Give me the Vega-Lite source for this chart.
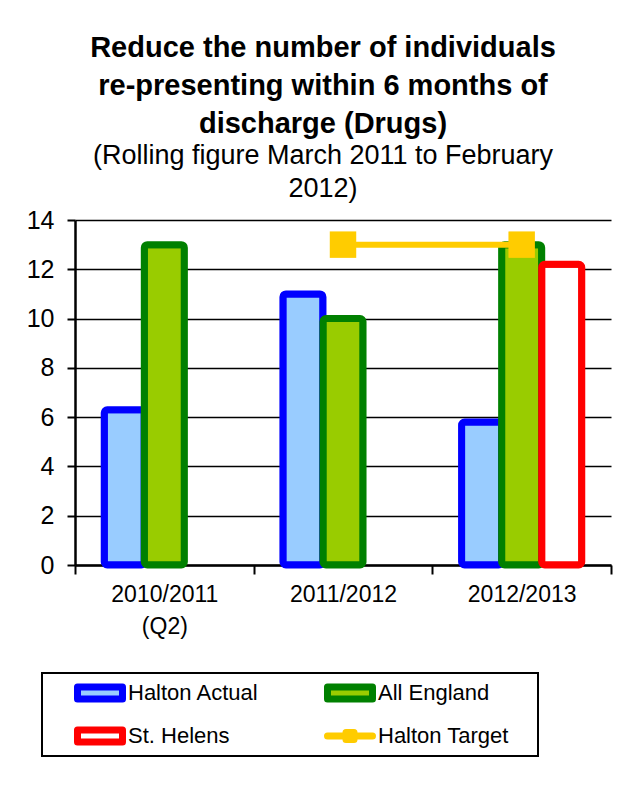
{
  "$schema": "https://vega.github.io/schema/vega-lite/v6.json",
  "width": 536,
  "height": 345,
  "autosize": {"type": "none"},
  "padding": {"left": 75, "top": 220, "right": 23, "bottom": 229},
  "background": "white",
  "config": {
    "font": "Liberation Sans",
    "view": {"stroke": null}
  },
  "title": {
    "text": ["Reduce the number of individuals", "re-presenting within 6 months of", "discharge (Drugs)"],
    "subtitle": ["(Rolling figure March 2011 to February", "2012)"],
    "font": "Liberation Sans",
    "fontSize": 29,
    "fontWeight": "bold",
    "lineHeight": 38,
    "color": "black",
    "subtitleFont": "Liberation Sans",
    "subtitleFontSize": 27,
    "subtitleLineHeight": 33,
    "subtitleColor": "black",
    "subtitlePadding": 4,
    "anchor": "middle",
    "frame": "group",
    "dx": -20,
    "offset": 6
  },
  "data": {
    "values": [
      {"period": "2010/2011 (Q2)", "series": "Halton Actual", "value": 6.3},
      {"period": "2011/2012", "series": "Halton Actual", "value": 11},
      {"period": "2012/2013", "series": "Halton Actual", "value": 5.8},
      {"period": "2010/2011 (Q2)", "series": "All England", "value": 13},
      {"period": "2011/2012", "series": "All England", "value": 10},
      {"period": "2012/2013", "series": "All England", "value": 13},
      {"period": "2012/2013", "series": "St. Helens", "value": 12.2},
      {"period": "2011/2012", "series": "Halton Target", "value": 13},
      {"period": "2012/2013", "series": "Halton Target", "value": 13}
    ]
  },
  "encoding": {
    "x": {
      "field": "period",
      "type": "nominal",
      "sort": ["2010/2011 (Q2)", "2011/2012", "2012/2013"],
      "scale": {"paddingInner": 0, "paddingOuter": 0},
      "axis": {
        "title": null,
        "labelAngle": 0,
        "labelExpr": "datum.value === '2010/2011 (Q2)' ? ['2010/2011', '(Q2)'] : datum.label",
        "labelFontSize": 23,
        "labelColor": "black",
        "labelLineHeight": 32,
        "labelPadding": 9,
        "tickBand": "extent",
        "tickSize": 9,
        "tickWidth": 2,
        "tickColor": "black",
        "domainColor": "black",
        "domainWidth": 2.5,
        "grid": false
      }
    },
    "y": {
      "field": "value",
      "type": "quantitative",
      "scale": {"domain": [0, 14], "nice": false},
      "axis": {
        "title": null,
        "values": [0, 2, 4, 6, 8, 10, 12, 14],
        "labelFontSize": 25,
        "labelColor": "black",
        "labelPadding": 13,
        "tickSize": 8,
        "tickWidth": 2,
        "tickColor": "black",
        "domainColor": "black",
        "domainWidth": 2.5,
        "grid": true,
        "gridColor": "black",
        "gridWidth": 1.5,
        "gridOpacity": 1
      }
    }
  },
  "layer": [
    {
      "transform": [{"filter": "datum.series !== 'Halton Target'"}],
      "mark": {"type": "bar", "strokeWidth": 7, "cornerRadius": 3, "strokeJoin": "round"},
      "encoding": {
        "xOffset": {
          "field": "series",
          "type": "nominal",
          "scale": {"domain": ["Halton Actual", "All England", "St. Helens"], "paddingInner": 0, "paddingOuter": 0.73}
        },
        "fill": {
          "field": "series",
          "type": "nominal",
          "scale": {
            "domain": ["Halton Actual", "All England", "St. Helens", "Halton Target"],
            "range": ["#99CCFF", "#99CC00", "#FFFFFF", "#FFCC00"]
          },
          "legend": {
            "title": " ",
            "titleOrient": "left",
            "titleFontSize": 1,
            "titlePadding": 38,
            "orient": "none",
            "legendX": -33,
            "legendY": 453,
            "columns": 2,
            "direction": "horizontal",
            "padding": 9,
            "strokeColor": "black",
            "labelFont": "Liberation Sans",
            "labelFontSize": 22,
            "labelColor": "black",
            "labelLimit": 400,
            "labelOffset": 17,
            "symbolSize": 4,
            "symbolStrokeWidth": 7,
            "symbolOpacity": 1,
            "symbolType": "M-22.5,-6H22.5V6H-22.5Z",
            "rowPadding": 21,
            "columnPadding": 65,
            "encode": {
              "legend": {"update": {"strokeWidth": {"value": 2}}},
              "symbols": {
                "update": {
                  "shape": {"signal": "datum.value === 'Halton Target' ? 'M-22.5,0H22.5M-4,-3.5H4V3.5H-4ZM175,0' : datum.value === 'All England' ? 'M-22.5,-6H22.5V6H-22.5ZM175,0' : 'M-22.5,-6H22.5V6H-22.5Z'"},
                  "strokeCap": {"value": "round"},
                  "strokeJoin": {"value": "round"}
                }
              }
            }
          }
        },
        "stroke": {
          "field": "series",
          "type": "nominal",
          "scale": {
            "domain": ["Halton Actual", "All England", "St. Helens", "Halton Target"],
            "range": ["#0000FF", "#008000", "#FF0000", "#FFCC00"]
          }
        }
      }
    },
    {
      "transform": [{"filter": "datum.series === 'Halton Target'"}],
      "mark": {"type": "line", "strokeWidth": 6},
      "encoding": {
        "stroke": {
          "field": "series",
          "type": "nominal",
          "scale": {
            "domain": ["Halton Actual", "All England", "St. Helens", "Halton Target"],
            "range": ["#0000FF", "#008000", "#FF0000", "#FFCC00"]
          }
        }
      }
    },
    {
      "transform": [{"filter": "datum.series === 'Halton Target'"}],
      "mark": {"type": "point", "shape": "square", "size": 700, "filled": true, "opacity": 1, "strokeWidth": 0},
      "encoding": {
        "fill": {
          "field": "series",
          "type": "nominal",
          "scale": {
            "domain": ["Halton Actual", "All England", "St. Helens", "Halton Target"],
            "range": ["#99CCFF", "#99CC00", "#FFFFFF", "#FFCC00"]
          }
        }
      }
    }
  ]
}
